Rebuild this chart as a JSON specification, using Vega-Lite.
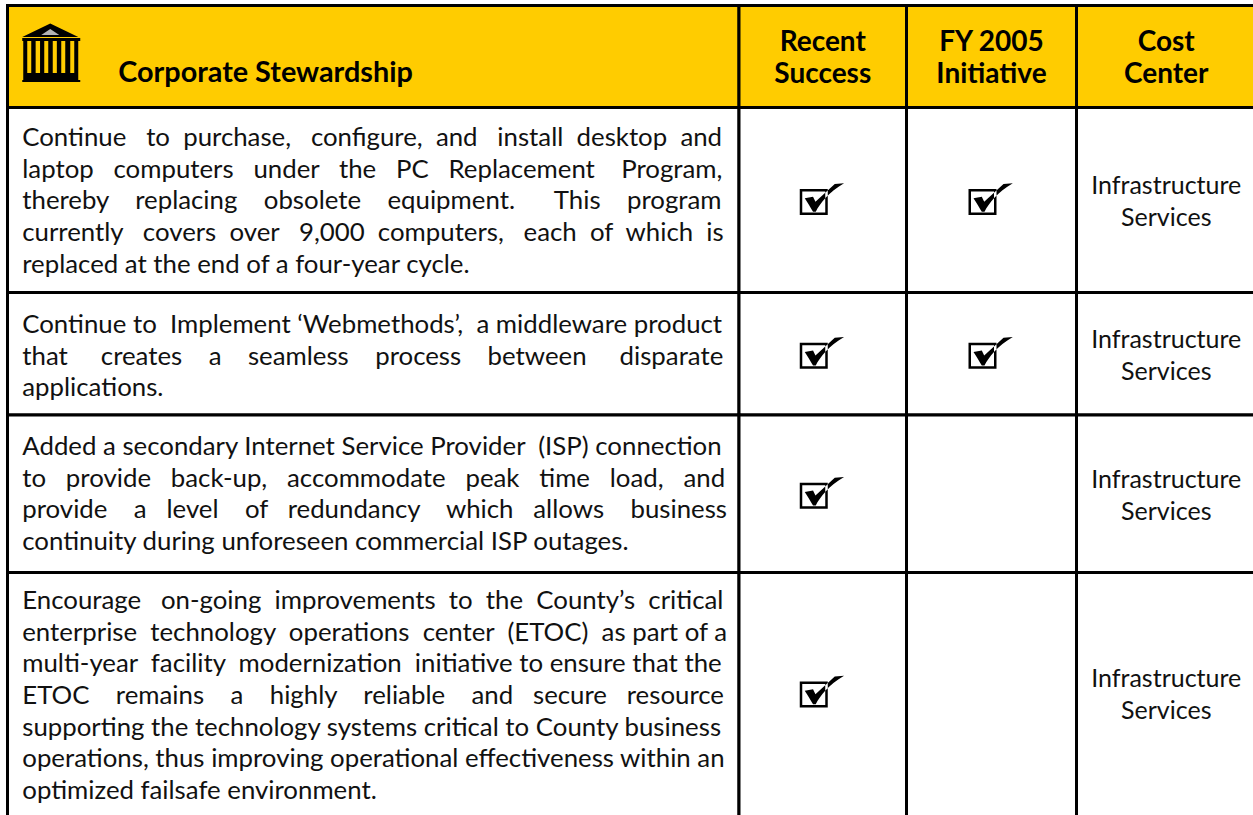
{"$schema":"https://vega.github.io/schema/vega-lite/v6.json","width":1253,"height":815,"autosize":{"type":"fit","contains":"padding"},"padding":0,"background":"white","config":{"view":{"stroke":null}},
"datasets":{"cells":[
{"part":"header","row":0,"rowEnd":1,"rowMid":0.5,"textRow":0.5,"col":0,"colEnd":1,"colMid":0.5,"text":"Corporate Stewardship"},
{"part":"header","row":0,"rowEnd":1,"rowMid":0.5,"textRow":0.5,"col":1,"colEnd":2,"colMid":1.5,"text":"Recent\nSuccess"},
{"part":"header","row":0,"rowEnd":1,"rowMid":0.5,"textRow":0.5,"col":2,"colEnd":3,"colMid":2.5,"text":"FY 2005\nInitiative"},
{"part":"header","row":0,"rowEnd":1,"rowMid":0.5,"textRow":0.5,"col":3,"colEnd":4,"colMid":3.5,"text":"Cost\nCenter"},
{"part":"body","row":1,"rowEnd":2,"rowMid":1.5,"textRow":1.1595,"col":0,"colEnd":1,"colMid":0.5,"text":"Continue \u00a0\u00a0to \u00a0purchase, \u00a0\u00a0configure, \u00a0and \u00a0\u00a0install \u00a0desktop \u00a0and\nlaptop \u00a0\u00a0computers \u00a0\u00a0under \u00a0\u00a0the \u00a0\u00a0PC \u00a0\u00a0Replacement \u00a0\u00a0\u00a0Program,\nthereby \u00a0\u00a0\u00a0replacing \u00a0\u00a0\u00a0obsolete \u00a0\u00a0\u00a0equipment. \u00a0\u00a0\u00a0\u00a0\u00a0This \u00a0\u00a0\u00a0program\ncurrently \u00a0\u00a0covers \u00a0over \u00a0\u00a09,000 \u00a0computers, \u00a0\u00a0each \u00a0of \u00a0which \u00a0is\nreplaced at the end of a four-year cycle."},
{"part":"body","row":1,"rowEnd":2,"rowMid":1.5,"col":1,"colEnd":2,"colMid":1.5,"checked":true},
{"part":"body","row":1,"rowEnd":2,"rowMid":1.5,"col":2,"colEnd":3,"colMid":2.5,"checked":true},
{"part":"body","row":1,"rowEnd":2,"rowMid":1.5,"textRow":1.5,"col":3,"colEnd":4,"colMid":3.5,"text":"Infrastructure\nServices"},
{"part":"body","row":2,"rowEnd":3,"rowMid":2.5,"textRow":2.257,"col":0,"colEnd":1,"colMid":0.5,"text":"Continue to \u00a0Implement ‘Webmethods’, \u00a0a middleware product\nthat \u00a0\u00a0\u00a0\u00a0creates \u00a0\u00a0\u00a0a \u00a0\u00a0\u00a0seamless \u00a0\u00a0\u00a0process \u00a0\u00a0\u00a0between \u00a0\u00a0\u00a0\u00a0disparate\napplications."},
{"part":"body","row":2,"rowEnd":3,"rowMid":2.5,"col":1,"colEnd":2,"colMid":1.5,"checked":true},
{"part":"body","row":2,"rowEnd":3,"rowMid":2.5,"col":2,"colEnd":3,"colMid":2.5,"checked":true},
{"part":"body","row":2,"rowEnd":3,"rowMid":2.5,"textRow":2.5,"col":3,"colEnd":4,"colMid":3.5,"text":"Infrastructure\nServices"},
{"part":"body","row":3,"rowEnd":4,"rowMid":3.5,"textRow":3.197,"col":0,"colEnd":1,"colMid":0.5,"text":"Added a secondary Internet Service Provider \u00a0(ISP) connection\nto \u00a0\u00a0provide \u00a0\u00a0back-up, \u00a0\u00a0accommodate \u00a0\u00a0peak \u00a0\u00a0time \u00a0\u00a0load, \u00a0\u00a0and\nprovide \u00a0\u00a0\u00a0a \u00a0\u00a0level \u00a0\u00a0\u00a0of \u00a0\u00a0redundancy \u00a0\u00a0\u00a0which \u00a0\u00a0allows \u00a0\u00a0\u00a0business\ncontinuity during unforeseen commercial ISP outages."},
{"part":"body","row":3,"rowEnd":4,"rowMid":3.5,"col":1,"colEnd":2,"colMid":1.5,"checked":true},
{"part":"body","row":3,"rowEnd":4,"rowMid":3.5,"col":2,"colEnd":3,"colMid":2.5},
{"part":"body","row":3,"rowEnd":4,"rowMid":3.5,"textRow":3.5,"col":3,"colEnd":4,"colMid":3.5,"text":"Infrastructure\nServices"},
{"part":"body","row":4,"rowEnd":5,"rowMid":4.485,"textRow":4.111,"col":0,"colEnd":1,"colMid":0.5,"text":"Encourage \u00a0\u00a0on-going \u00a0improvements \u00a0to \u00a0the \u00a0County’s \u00a0critical\nenterprise \u00a0technology \u00a0operations \u00a0center \u00a0(ETOC) \u00a0as part of a\nmulti-year \u00a0facility \u00a0modernization \u00a0initiative to ensure that the\nETOC \u00a0\u00a0\u00a0remains \u00a0\u00a0\u00a0a \u00a0\u00a0\u00a0highly \u00a0\u00a0\u00a0reliable \u00a0\u00a0\u00a0and \u00a0\u00a0secure \u00a0\u00a0resource\nsupporting the technology systems critical to County business\noperations, thus improving operational effectiveness within an\noptimized failsafe environment."},
{"part":"body","row":4,"rowEnd":5,"rowMid":4.485,"col":1,"colEnd":2,"colMid":1.5,"checked":true},
{"part":"body","row":4,"rowEnd":5,"rowMid":4.485,"col":2,"colEnd":3,"colMid":2.5},
{"part":"body","row":4,"rowEnd":5,"rowMid":4.485,"textRow":4.485,"col":3,"colEnd":4,"colMid":3.5,"text":"Infrastructure\nServices"}
]},
"data":{"name":"cells"},
"encoding":{"x":{"field":"colMid","type":"quantitative","axis":null,"scale":{"domain":[0,1,2,3,4],"range":[7.5,739,906.5,1076.5,1256]}},"y":{"field":"textRow","type":"quantitative","axis":null,"scale":{"domain":[0,1,2,3,4,5],"range":[5.5,107.5,292.5,415,572.5,820]}}},
"layer":[
{"mark":{"type":"rect","stroke":"black","strokeWidth":3,"clip":true},"encoding":{"x":{"field":"col","type":"quantitative","axis":null},"x2":{"field":"colEnd"},"y":{"field":"row","type":"quantitative","axis":null},"y2":{"field":"rowEnd"},"fill":{"field":"part","type":"nominal","legend":null,"scale":{"domain":["header","body"],"range":["#FFCC00","#FFFFFF"]}}}},
{"transform":[{"filter":"datum.part==='header' && datum.col===0"}],"mark":{"type":"point","filled":true,"fill":"black","opacity":1,"size":4,"xOffset":-322,"yOffset":-3.5,"shape":"M-1,-29.5 L27,-16 H-29 Z M-29,-15 H29 V-12 H-29 Z M-28,-12 H-24 V20 H-20 V-12 H-15.6 V20 H-11.2 V-12 H-7 V20 H-3 V-12 H1.5 V20 H5.6 V-12 H10 V20 H14 V-12 H19 V20 H23 V-12 H27 V27 H-28 Z M-29,27 H29 V29 H-29 Z"},"encoding":{"y":{"field":"rowMid","type":"quantitative","axis":null}}},
{"transform":[{"filter":"datum.part==='header' && datum.col===0"}],"mark":{"type":"point","filled":true,"fill":"white","opacity":0.7,"size":4,"xOffset":-322,"yOffset":-3.5,"shape":"M-1,-24 L8,-18 H-10 Z"},"encoding":{"y":{"field":"rowMid","type":"quantitative","axis":null}}},
{"transform":[{"filter":"datum.checked===true"}],"mark":{"type":"point","filled":true,"fill":"black","opacity":1,"size":4,"shape":"M-23,-11 H5 V15 H-23 Z M-20.5,-8.5 V12.5 H2.5 V-8.5 Z M21.3,-16.7 L12,-16 L-7.3,1.7 L-9.7,-3.3 L-18,-1.7 C-15,3 -12,8 -9.7,11.7 L-7,11.7 C-3,4 6,-8 21.3,-16.7 Z"},"encoding":{"y":{"field":"rowMid","type":"quantitative","axis":null}}},
{"transform":[{"filter":"datum.part==='header' && datum.col===0"}],"mark":{"type":"text","align":"left","baseline":"middle","font":"Lato","fontWeight":"bold","fontSize":28.8,"color":"black","dx":-255,"dy":16},"encoding":{"text":{"field":"text"}}},
{"transform":[{"filter":"datum.part==='header' && datum.col>0"}],"mark":{"type":"text","align":"center","baseline":"middle","font":"Lato","fontWeight":"bold","fontSize":28,"color":"black","lineBreak":"\n","lineHeight":32,"dy":-14},"encoding":{"text":{"field":"text"}}},
{"transform":[{"filter":"datum.part==='body' && datum.col===0"}],"mark":{"type":"text","align":"left","baseline":"middle","font":"Lato","fontSize":25.8,"color":"#111111","lineBreak":"\n","lineHeight":31.7,"dx":-351,"dy":1},"encoding":{"text":{"field":"text"}}},
{"transform":[{"filter":"datum.part==='body' && datum.col===3"}],"mark":{"type":"text","align":"center","baseline":"middle","font":"Lato","fontSize":25,"color":"#111111","lineBreak":"\n","lineHeight":32,"dy":-14},"encoding":{"text":{"field":"text"}}}
]}
